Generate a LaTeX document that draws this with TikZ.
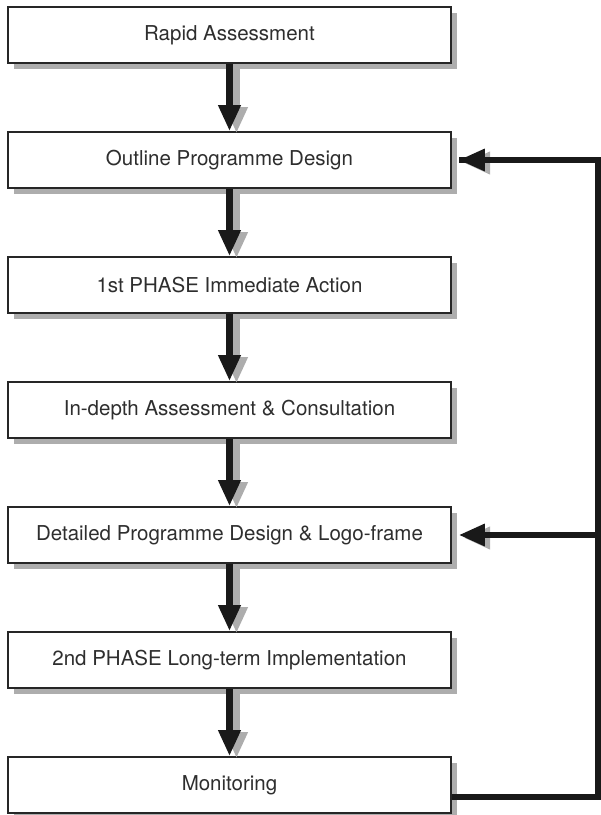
\documentclass[tikz,border=0pt]{standalone}
\usepackage{fontspec}
\setmainfont{TeX Gyre Heros}
\usetikzlibrary{arrows.meta}
\definecolor{shadowgray}{gray}{0.68}
\definecolor{txtgray}{gray}{0.18}
\tikzset{
  stepbox/.style={draw=black!85, line width=1.6pt, fill=white, minimum width=443pt, minimum height=56pt, inner sep=0pt, text=txtgray, font=\fontsize{20.5}{24}\selectfont},
  boxshadow/.style={fill=shadowgray, draw=none},
  flowarrow/.style={draw=black!90, line width=6.5pt, -{Triangle[length=26pt,width=21pt]}},
  shadowarrow/.style={draw=shadowgray, line width=6.5pt, -{Triangle[length=26pt,width=21pt]}},
  fbline/.style={draw=black!90, line width=6pt, line join=miter}
}
\begin{document}
\begin{tikzpicture}[x=1pt,y=-1pt]
\useasboundingbox (0,0) rectangle (601,815);
% box shadows
\foreach \k in {0,...,6}{
  \fill[boxshadow] (14,13+125*\k) rectangle (457,69+125*\k);
}
\node[stepbox] (b1) at (229.5,35) {Rapid Assessment};
\node[stepbox] (b2) at (229.5,160) {Outline Programme Design};
\node[stepbox] (b3) at (229.5,285) {1st PHASE Immediate Action};
\node[stepbox] (b4) at (229.5,410) {In-depth Assessment \& Consultation};
\node[stepbox] (b5) at (229.5,535) {Detailed Programme Design \& Logo-frame};
\node[stepbox] (b6) at (229.5,660) {2nd PHASE Long-term Implementation};
\node[stepbox] (b7) at (229.5,785) {Monitoring};
% vertical arrows with shadows
\foreach \a/\b in {b1/b2,b2/b3,b3/b4,b4/b5,b5/b6,b6/b7}{
  \draw[shadowarrow] ([shift={(7,2)}]\a.south) -- ([shift={(7,2)}]\b.north);
  \draw[flowarrow] (\a.south) -- (\b.north);
}
% feedback loop
\coordinate (m1) at ([yshift=-12pt]b7.east);
\coordinate (cr) at (598,797);
\coordinate (ct) at (598,158);
\coordinate (c5) at (598,533);
\draw[shadowarrow] ([shift={(490,163)}]0,0) -- ([shift={(464,163)}]0,0);
\draw[shadowarrow] ([shift={(490,538)}]0,0) -- ([shift={(464,538)}]0,0);
\draw[fbline] (m1) -- (cr) -- (ct |- b2.east) -- ([xshift=7pt]b2.east);
\draw[fbline, -{Triangle[length=26pt,width=21pt]}] (ct |- b2.east) -- ([xshift=7pt]b2.east);
\draw[fbline, -{Triangle[length=26pt,width=21pt]}] (cr |- b5.east) -- ([xshift=7pt]b5.east);
\end{tikzpicture}
\end{document}
